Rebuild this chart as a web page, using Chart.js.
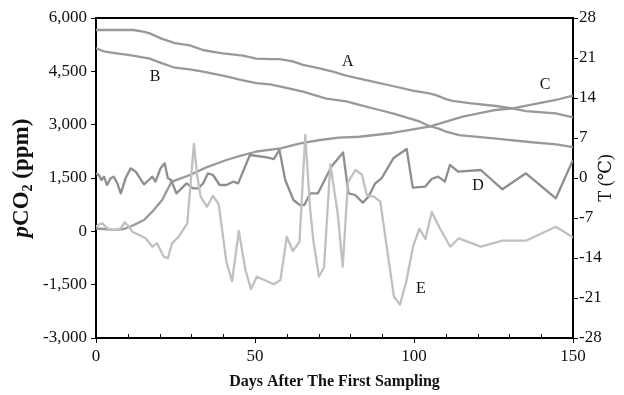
<!DOCTYPE html>
<html>
<head>
<meta charset="utf-8">
<script src="https://cdn.jsdelivr.net/npm/chart.js@4/dist/chart.umd.min.js"></script>
<style>
  html, body { margin: 0; padding: 0; background: #fff; }
  #wrap { width: 624px; height: 395px; }
</style>
</head>
<body>
<div id="wrap"><canvas id="c" width="624" height="395"></canvas></div>
<script>
// A, B: temperatures (°C, right axis) — C, D, E: pCO2 (ppm, left axis)
// each point is [day, value]
const tempA = [[0,25.9],[11.7,25.9],[14.8,25.6],[16.9,25.3],[20.6,24.4],[24.8,23.6],[29.5,23.2],[33.6,22.4],[37.8,22.0],[39.9,21.8],[46.2,21.4],[50.4,20.9],[54.7,20.8],[57.7,20.8],[61.9,20.4],[65.1,19.8],[70.3,19.2],[74.5,18.6],[78.7,17.9],[86,17.0],[93.3,16.1],[99.6,15.3],[104.8,14.8],[106.9,14.5],[110.1,13.8],[112.1,13.5],[117.4,13.1],[125.7,12.6],[131,12.2],[135.2,11.7],[144.6,11.3],[150,10.6]];
const tempB = [[0,22.7],[2.8,22.1],[6.5,21.8],[10.7,21.5],[13.8,21.2],[16.9,20.9],[20.6,20.1],[24.8,19.3],[29.5,19.0],[33.6,18.6],[39.9,17.9],[46.2,17.1],[50.4,16.6],[54.7,16.4],[58.8,15.9],[65.1,15.1],[72.4,13.9],[78.7,13.4],[82.8,12.8],[89.1,11.9],[93.3,11.3],[101.7,9.9],[104.8,9.1],[108,8.6],[110.1,8.1],[114.2,7.5],[125.8,6.9],[136.2,6.3],[144.7,5.9],[150,5.4]];
const co2C = [[0,80],[2.5,66],[5.6,40],[8.8,66],[11.9,178],[15.1,319],[17.7,553],[20.8,881],[23.7,1390],[29.5,1584],[34.7,1800],[41,2006],[45.3,2120],[50.5,2245],[58,2335],[64.2,2475],[70.5,2569],[76.3,2634],[82.8,2660],[93.2,2766],[104.8,2943],[115.3,3225],[125.7,3413],[131,3459],[136.2,3553],[144.6,3694],[150,3816]];
const co2D = [[0,1632],[0.9,1584],[1.7,1444],[2.5,1537],[3.5,1303],[4.6,1491],[5.6,1537],[6.7,1350],[7.8,1069],[9.3,1491],[10.9,1772],[12.5,1678],[13.5,1537],[15.1,1322],[16.6,1444],[17.7,1537],[18.7,1397],[20.3,1772],[21.6,1913],[22.6,1491],[23.6,1444],[25.3,1069],[28.5,1350],[30.5,1210],[32.1,1210],[33.7,1350],[35.2,1632],[36.8,1584],[38.9,1303],[41,1303],[43.1,1397],[44.7,1350],[48.4,2147],[53.8,2082],[55.9,2034],[57.7,2288],[59.5,1444],[62.1,881],[64,741],[65.5,741],[67.4,1069],[69.8,1069],[71.9,1444],[74,1818],[77.7,2220],[79.4,1069],[81.5,1022],[83.9,806],[85.7,975],[87.8,1350],[89.8,1491],[93.5,2054],[97.7,2316],[99.6,1228],[103.5,1256],[105.5,1472],[107.6,1537],[109.7,1397],[111.3,1866],[113.9,1678],[121,1725],[127.8,1182],[135.2,1632],[144.6,929],[150,2006]];
const co2E = [[0,130],[0.6,178],[2,226],[3.5,84],[5.6,37],[7.8,84],[9,254],[10.4,130],[11.4,-10],[13.5,-103],[15.6,-196],[17.7,-432],[19.2,-337],[21.3,-713],[22.6,-758],[23.9,-337],[26,-151],[28.7,226],[30.8,2460],[31.8,1584],[32.9,974],[34.9,693],[36.8,1000],[38.6,760],[39.6,85],[41,-860],[42.8,-1400],[44.9,9],[47,-1088],[48.7,-1622],[50.6,-1276],[55.9,-1490],[58,-1369],[60,-151],[61.9,-553],[64,-300],[65.8,2709],[67.4,552],[68.4,-291],[70.1,-1270],[71.7,-1017],[73.7,1880],[76,507],[77.6,-994],[79.2,1373],[81.6,1725],[83.6,1598],[85.2,1008],[87.4,974],[89.4,833],[93.7,-1841],[95.6,-2058],[97.5,-1439],[99.7,-432],[101.7,74],[103.6,-216],[105.6,544],[108,108],[111.4,-432],[114.1,-196],[121,-432],[127.8,-263],[135.2,-263],[144.6,130],[150,-168]];

// letters placed next to the curves, in data units (day, ppm)
const curveTags = [['A', 79.2, 4762], ['B', 18.6, 4341], ['C', 141.2, 4116], ['D', 120.1, 1275], ['E', 102.2, -1622]];

const SERIF = '"Liberation Serif", "DejaVu Serif", serif';
const tickFont = { family: SERIF, size: 17 };
const toXY = arr => arr.map(([x, y]) => ({ x, y }));

const decor = {
  id: 'decor',
  afterDraw(chart) {
    const { ctx, chartArea: a, scales } = chart;
    ctx.save();
    ctx.strokeStyle = '#000';
    ctx.lineWidth = 2;
    ctx.beginPath(); ctx.moveTo(a.left, a.top); ctx.lineTo(a.right, a.top); ctx.stroke();

    // minor ticks on the day axis, pointing inward
    ctx.lineWidth = 1;
    for (let v = 10; v < 150; v += 10) {
      if (v % 50 === 0) continue;
      const px = Math.round(scales.x.getPixelForValue(v)) + 0.5;
      ctx.beginPath(); ctx.moveTo(px, a.bottom); ctx.lineTo(px, a.bottom - 4); ctx.stroke();
    }

    ctx.fillStyle = '#111';
    ctx.textAlign = 'center';
    ctx.textBaseline = 'middle';
    ctx.font = `16px ${SERIF}`;
    curveTags.forEach(([t, d, v]) => ctx.fillText(t, scales.x.getPixelForValue(d), scales.y.getPixelForValue(v)));

    ctx.font = `bold 16px ${SERIF}`;
    ctx.fillText('Days After The First Sampling', (a.left + a.right) / 2, 382);

    const midY = (a.top + a.bottom) / 2;
    // left title: pCO2 (ppm), italic p and subscript 2
    const parts = [['p', `italic bold 23px ${SERIF}`, 0], ['CO', `bold 23px ${SERIF}`, 0], ['2', `bold 14px ${SERIF}`, 6], [' (ppm)', `bold 23px ${SERIF}`, 0]];
    let total = 0;
    parts.forEach(p => { ctx.font = p[1]; total += ctx.measureText(p[0]).width; });
    ctx.save();
    ctx.translate(22, midY);
    ctx.rotate(-Math.PI / 2);
    ctx.textAlign = 'left';
    let cx = -total / 2;
    parts.forEach(([t, f, dy]) => { ctx.font = f; ctx.fillText(t, cx, dy); cx += ctx.measureText(t).width; });
    ctx.restore();

    ctx.save();
    ctx.translate(606, midY);
    ctx.rotate(-Math.PI / 2);
    ctx.font = `18px ${SERIF}`;
    ctx.fillText('T (℃)', 0, 0);
    ctx.restore();
    ctx.restore();
  }
};

const axisGrid = { display: true, drawOnChartArea: false, drawTicks: true, tickLength: 5, color: '#000', lineWidth: 1 };
const axisBorder = { display: true, color: '#000', width: 2 };

new Chart(document.getElementById('c'), {
  type: 'line',
  data: {
    datasets: [
      { label: 'E', data: toXY(co2E), yAxisID: 'y', borderColor: '#c0c0c0' },
      { label: 'D', data: toXY(co2D), yAxisID: 'y', borderColor: '#8e8e8e' },
      { label: 'C', data: toXY(co2C), yAxisID: 'y', borderColor: '#999999' },
      { label: 'B', data: toXY(tempB), yAxisID: 'y1', borderColor: '#999999' },
      { label: 'A', data: toXY(tempA), yAxisID: 'y1', borderColor: '#999999' }
    ]
  },
  options: {
    responsive: false,
    animation: false,
    devicePixelRatio: 1,
    layout: { padding: { top: 18, left: 0, right: 0, bottom: 0 } },
    plugins: { legend: { display: false }, tooltip: { enabled: false } },
    elements: {
      point: { radius: 0 },
      line: { tension: 0, borderWidth: 2.3, borderJoinStyle: 'round', fill: false }
    },
    scales: {
      x: {
        type: 'linear', min: 0, max: 150,
        ticks: { stepSize: 50, font: tickFont, color: '#111', padding: 3, maxRotation: 0 },
        grid: axisGrid, border: axisBorder,
        afterFit: s => { s.height = 57; }
      },
      y: {
        position: 'left', min: -3000, max: 6000,
        ticks: { stepSize: 1500, font: tickFont, color: '#111', padding: 4, callback: v => v.toLocaleString('en-US') },
        grid: axisGrid, border: axisBorder,
        afterFit: s => { s.width = 96; }
      },
      y1: {
        position: 'right', min: -28, max: 28,
        ticks: { stepSize: 7, font: tickFont, color: '#111', padding: 1 },
        grid: axisGrid, border: axisBorder,
        afterFit: s => { s.width = 51; }
      }
    }
  },
  plugins: [decor]
});
</script>
</body>
</html>
